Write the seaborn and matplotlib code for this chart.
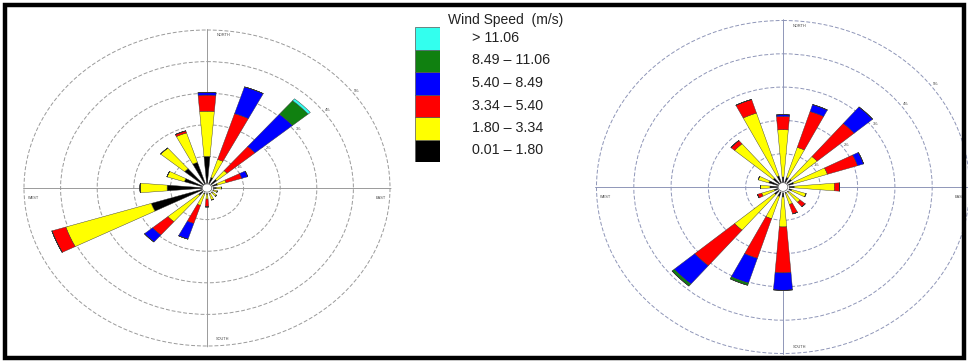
import numpy as np
import matplotlib
matplotlib.use("Agg")
import matplotlib.pyplot as plt
import seaborn as sns
from matplotlib.patches import Rectangle

# ---------------------------------------------
# Data: frequency per direction and speed class
# (segment lengths, stacked from the centre out)
# ---------------------------------------------
directions = ["N", "NNE", "NE", "ENE", "E", "ESE", "SE", "SSE",
              "S", "SSW", "SW", "WSW", "W", "WNW", "NW", "NNW"]
speed_bins = ["0.01 – 1.80", "1.80 – 3.34", "3.34 – 5.40",
              "5.40 – 8.49", "8.49 – 11.06", "> 11.06"]
bin_colors = ["#000000", "#ffff00", "#ff0000", "#0000ff", "#108010", "#33ffee"]

# left rose
left_b1 = [1.00, 0.35, 0.35, 0.30, 0.25, 0.20, 0.20, 0.20, 0.20, 0.20, 0.30, 1.60, 1.09, 0.65, 0.80, 0.85]
left_b2 = [1.43, 0.60, 0.37, 0.25, 0.15, 0.10, 0.15, 0.20, 0.15, 0.38, 1.10, 2.45, 0.74, 0.50, 0.86, 0.98]
left_b3 = [0.51, 1.52, 1.00, 0.45, 0.00, 0.00, 0.00, 0.00, 0.25, 0.60, 0.55, 0.40, 0.00, 0.00, 0.00, 0.07]
left_b4 = [0.08, 0.89, 1.34, 0.17, 0.00, 0.00, 0.00, 0.00, 0.00, 0.52, 0.29, 0.00, 0.00, 0.00, 0.00, 0.00]
left_b5 = [0.00, 0.00, 0.56, 0.00, 0.00, 0.00, 0.00, 0.00, 0.00, 0.00, 0.00, 0.00, 0.00, 0.00, 0.00, 0.00]
left_b6 = [0.00, 0.00, 0.08, 0.00, 0.00, 0.00, 0.00, 0.00, 0.00, 0.00, 0.00, 0.00, 0.00, 0.00, 0.00, 0.00]

# right rose
right_b1 = [0.30, 0.30, 0.30, 0.30, 0.30, 0.25, 0.20, 0.20, 0.30, 0.30, 0.30, 0.25, 0.35, 0.40, 0.35, 0.35]
right_b2 = [1.42, 0.95, 0.90, 0.95, 1.08, 0.40, 0.40, 0.35, 0.90, 0.70, 1.40, 0.35, 0.25, 0.30, 1.35, 1.98]
right_b3 = [0.40, 1.13, 1.30, 0.85, 0.14, 0.00, 0.18, 0.30, 1.38, 1.25, 1.40, 0.12, 0.00, 0.00, 0.13, 0.43]
right_b4 = [0.05, 0.22, 0.65, 0.17, 0.00, 0.00, 0.00, 0.00, 0.52, 0.78, 0.72, 0.00, 0.00, 0.00, 0.00, 0.00]
right_b5 = [0.00, 0.00, 0.00, 0.00, 0.00, 0.00, 0.00, 0.00, 0.00, 0.07, 0.08, 0.00, 0.00, 0.00, 0.00, 0.00]
right_b6 = [0.00, 0.00, 0.00, 0.00, 0.00, 0.00, 0.00, 0.00, 0.00, 0.00, 0.00, 0.00, 0.00, 0.00, 0.00, 0.00]

ring_values = [1, 2, 3, 4, 5]
ring_labels = ["1%", "2%", "3%", "4%", "5%"]
compass_labels = ["NORTH", "EAST", "SOUTH", "WEST"]

# ---------------------------------------------
sns.set_style("white")
plt.rcParams["font.family"] = ["Liberation Sans", "DejaVu Sans"]

W, H = 968, 361
fig = plt.figure(figsize=(W / 100, H / 100), dpi=100)
R_MAX = 5.04


def rose_axes(cx, cy, ux, uy):
    rect = [(cx - ux * R_MAX) / W, (H - cy - uy * R_MAX) / H,
            2 * ux * R_MAX / W, 2 * uy * R_MAX / H]
    ax = fig.add_axes(rect, projection="polar")
    ax.set_aspect("auto")
    return ax


def draw_rose(ax, segments, grid_color):
    ax.set_theta_zero_location("N")
    ax.set_theta_direction(-1)
    theta = np.deg2rad(np.arange(len(directions)) * 22.5)
    bottom = np.zeros(len(directions))
    for vals, col in zip(segments, bin_colors):
        vals = np.array(vals)
        ax.bar(theta, vals, width=np.deg2rad(9.5), bottom=bottom, color=col,
               edgecolor="#333333", linewidth=0.3, zorder=3)
        bottom += vals
    # little white hole at the centre
    t = np.linspace(0, 2 * np.pi, 100)
    ax.fill_between(t, 0, 0.13, color="white", zorder=4)
    ax.plot(t, np.full_like(t, 0.13), color="#555555", lw=0.5, zorder=5)

    ax.set_ylim(0, R_MAX)
    ax.set_rgrids(ring_values, labels=[""] * len(ring_values))
    ax.set_thetagrids([0, 90, 180, 270], labels=[""] * 4)
    ax.yaxis.grid(True, color=grid_color, linestyle=(0, (4, 2)), linewidth=0.7)
    ax.xaxis.grid(True, color=grid_color, linestyle="-", linewidth=0.7)
    ax.spines["polar"].set_visible(False)
    ax.patch.set_alpha(0)

    for r, lab in zip(ring_values, ring_labels):
        ax.text(np.deg2rad(53), r + 0.12, lab, fontsize=2.8, color="#444444",
                ha="center", va="center")
    ax.text(np.deg2rad(3), 4.85, compass_labels[0], fontsize=2.8, color="#444444", ha="left", va="center")
    ax.text(np.deg2rad(93), 4.75, compass_labels[1], fontsize=2.8, color="#444444", ha="center", va="top")
    ax.text(np.deg2rad(177), 4.8, compass_labels[2], fontsize=2.8, color="#444444", ha="left", va="center")
    ax.text(np.deg2rad(267), 4.75, compass_labels[3], fontsize=2.8, color="#444444", ha="center", va="top")


ax_l = rose_axes(207, 188, 36.6, 31.6)
draw_rose(ax_l, [left_b1, left_b2, left_b3, left_b4, left_b5, left_b6], "#9a9a9a")

ax_r = rose_axes(783, 187, 37.3, 33.3)
draw_rose(ax_r, [right_b1, right_b2, right_b3, right_b4, right_b5, right_b6], "#8f96b8")

# ---------------------------------------------
# Legend
# ---------------------------------------------
ax_leg = fig.add_axes([415 / W, (H - 162) / H, 25 / W, 135 / H])
ypos = np.arange(len(speed_bins))
ax_leg.barh(ypos, [1] * len(speed_bins), height=1.0, color=bin_colors,
            edgecolor="#555555", linewidth=0.5)
ax_leg.set_xlim(0, 1)
ax_leg.set_ylim(-0.5, len(speed_bins) - 0.5)
ax_leg.axis("off")
for y, lab in zip(ypos, speed_bins):
    fig.text(472 / W, (H - (150.5 - y * 22.5)) / H, lab, fontsize=10.3,
             ha="left", va="center", color="#222222")
fig.text(448 / W, (H - 20) / H, "Wind Speed  (m/s)", fontsize=10.0,
         ha="left", va="center", color="#222222")

# outer frame
fig.patches.append(Rectangle((5 / W, 3 / H), 959 / W, 353 / H, transform=fig.transFigure,
                             fill=False, edgecolor="black", linewidth=3.2))

fig.savefig("out.png", dpi=100)
